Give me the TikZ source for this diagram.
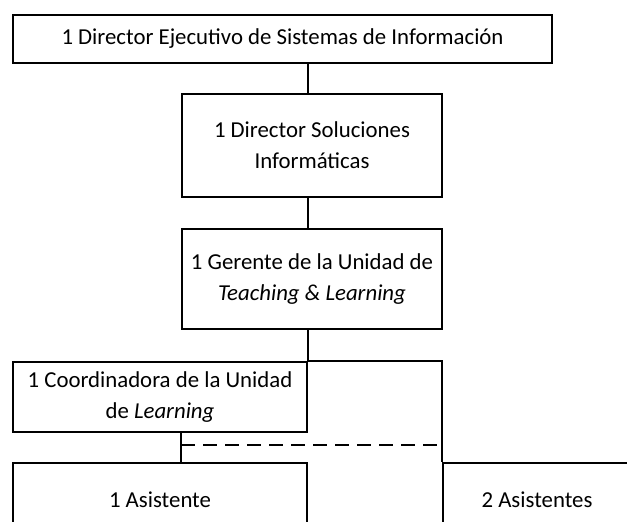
\documentclass[tikz,border=0pt]{standalone}
\usepackage{fontspec}
\setmainfont{Carlito}
\usepackage{tikz}
\usetikzlibrary{positioning}
\tikzstyle{block} = [
	draw,
	line width=1pt,
	align=center,
	font=\fontsize{11.4pt}{15.5pt}\selectfont
]
\tikzstyle{link} = [line width=1pt]

\begin{document}
\begin{tikzpicture}[x=0.5pt, y=-0.5pt]
	\useasboundingbox (0,0) rectangle (627,522);
	\clip (0,0) rectangle (627,522);
	\node[block, name = DIR, minimum width=269.5pt, minimum height=24pt] at (282.5,39) {1 Director Ejecutivo de Sistemas de Información};
	\node[block, name = SOL, minimum width=130pt, minimum height=51.5pt] at (312,145.5) {1 Director Soluciones\\Informáticas};
	\node[block, name = GER, minimum width=130pt, minimum height=50pt] at (312,279) {1 Gerente de la Unidad de\\\textit{Teaching \& Learning}};
	\node[block, name = COORD, minimum width=147pt, minimum height=35pt] at (160,397) {1 Coordinadora de la Unidad\\de \textit{Learning}};
	\node[block, name = AS1, minimum width=147pt, minimum height=37pt] at (160,500) {1 Asistente};
	\node[block, name = AS2, minimum width=94pt, minimum height=37pt] at (537,500) {2 Asistentes};
	\coordinate (split) at (SOL.west |- 0,445);

	\draw[link] (COORD.north east |- DIR.south) -- (COORD.north east |- SOL.north);
	\draw[link] (COORD.north east |- SOL.south) -- (COORD.north east |- GER.north);
	\draw[link] (COORD.north east |- GER.south) -- (COORD.north east) -- (AS2.north west |- COORD.north) -- (AS2.north west);
	\draw[link] (SOL.west |- COORD.south) -- (SOL.west |- AS1.north);
	\draw[link, dash pattern=on 7pt off 4pt] (split) -- (AS2.north west |- split);

\end{tikzpicture}
\end{document}
